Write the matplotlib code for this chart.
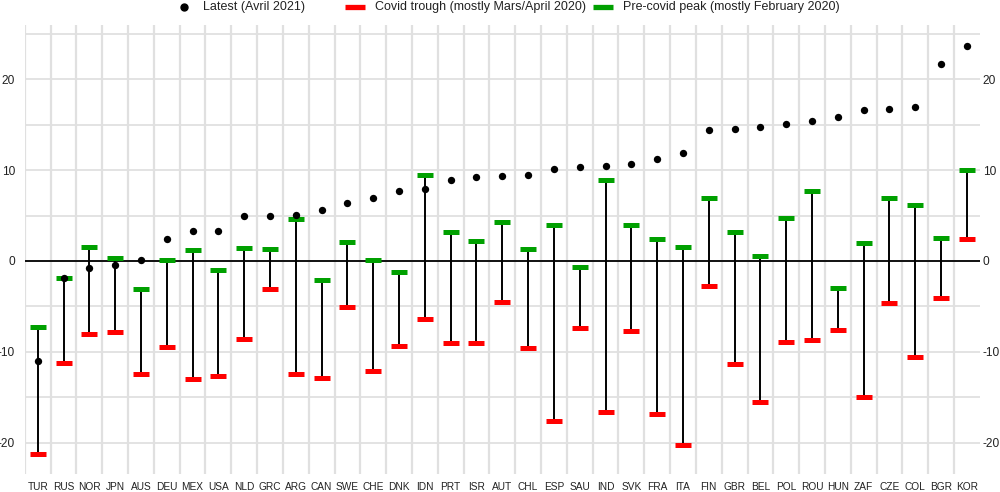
import numpy as np
import matplotlib
matplotlib.use('Agg')
import matplotlib.pyplot as plt
from matplotlib.lines import Line2D

plt.rcParams['font.family'] = ['Liberation Sans', 'DejaVu Sans']

# Data
countries = ['TUR', 'RUS', 'NOR', 'JPN', 'AUS', 'DEU', 'MEX', 'USA', 'NLD', 'GRC',
             'ARG', 'CAN', 'SWE', 'CHE', 'DNK', 'IDN', 'PRT', 'ISR', 'AUT', 'CHL',
             'ESP', 'SAU', 'IND', 'SVK', 'FRA', 'ITA', 'FIN', 'GBR', 'BEL', 'POL',
             'ROU', 'HUN', 'ZAF', 'CZE', 'COL', 'BGR', 'KOR']
latest = [-11.0, -1.9, -0.8, -0.44, 0.15, 2.46, 3.3, 3.3, 4.9, 4.93,
          5.07, 5.66, 6.4, 6.88, 7.65, 7.87, 8.9, 9.26, 9.38, 9.45,
          10.15, 10.33, 10.5, 10.66, 11.25, 11.84, 14.38, 14.5, 14.7, 15.07,
          15.44, 15.88, 16.65, 16.73, 16.9, 21.7, 23.7]
trough = [-21.3, -11.2, -8.1, -7.83, -12.4, -9.49, -13.05, -12.7, -8.64, -3.13,
          -12.4, -12.9, -5.1, -12.17, -9.41, -6.43, -9.08, -9.0, -4.52, -9.6,
          -17.6, -7.43, -16.6, -7.76, -16.8, -20.3, -2.79, -11.4, -15.5, -8.97,
          -8.75, -7.61, -14.96, -4.63, -10.55, -4.08, 2.39]
peak = [-7.28, -1.84, 1.54, 0.37, -3.09, 0.07, 1.25, -1.0, 1.4, 1.32,
        4.63, -2.06, 2.06, 0.15, -1.21, 9.45, 3.16, 2.17, 4.26, 1.32,
        3.93, -0.7, 8.93, 4.0, 2.43, 1.54, 6.95, 3.24, 0.51, 4.74,
        7.72, -3.01, 2.02, 6.95, 6.14, 2.5, 9.96]
yticks = [-20, -10, 0, 10, 20]
legend_labels = ['Latest (Avril 2021)', 'Covid trough (mostly Mars/April 2020)',
                 'Pre-covid peak (mostly February 2020)']

GRID = '#e0e0e0'
RED = '#ff0000'
GREEN = '#00a000'
TXT = '#222222'

W, H = 1000, 492
fig = plt.figure(figsize=(W / 100, H / 100), dpi=100)
ax = fig.add_axes([0.0248, 0.0366, 0.955, 0.913])

x = np.arange(len(countries))
n = len(countries)

# grid: horizontal major + minor, vertical between categories
for yv in [-20, -15, -10, -5, 0, 5, 10, 15, 20, 25]:
    ax.axhline(yv, color=GRID, lw=1.3, zorder=0)
ax.vlines(np.arange(-0.5, n - 1, 1), -30, 30, color=GRID, lw=1.6, zorder=0)
ax.axhline(0, color='black', lw=1.3, zorder=1)

# range between trough and peak
ax.vlines(x, trough, peak, color='black', lw=1.4, zorder=2)
ax.hlines(trough, x - 0.31, x + 0.31, color=RED, lw=3.6, zorder=3)
ax.hlines(peak, x - 0.31, x + 0.31, color=GREEN, lw=3.6, zorder=3)
ax.scatter(x, latest, s=28, color='black', zorder=4, linewidths=0)

ax.set_xlim(-0.5, n - 0.5)
ax.set_ylim(-23.46, 26.0)
ax.set_xticks(x)
ax.set_xticklabels(countries, fontsize=7.3, color=TXT)
ax.set_yticks(yticks)
ax.set_yticklabels([str(v) for v in yticks], fontsize=8.6, color=TXT)
ax.tick_params(axis='both', length=0)
ax.tick_params(axis='y', pad=7)
ax.tick_params(axis='x', pad=6)
for s in ax.spines.values():
    s.set_visible(False)

# duplicated labels on the right side
ax2 = ax.twinx()
ax2.set_ylim(ax.get_ylim())
ax2.set_yticks(yticks)
ax2.set_yticklabels([str(v) for v in yticks], fontsize=8.6, color=TXT)
ax2.tick_params(axis='y', length=0, pad=2)
for s in ax2.spines.values():
    s.set_visible(False)

# legend drawn by hand along the top edge
ly = 1 - 6.5 / H
fig.add_artist(Line2D([184 / W], [ly], marker='o', color='black', markersize=5,
                      transform=fig.transFigure))
fig.add_artist(Line2D([345 / W, 365 / W], [ly, ly], color=RED, lw=3.8,
                      transform=fig.transFigure, solid_capstyle='butt'))
fig.add_artist(Line2D([593 / W, 613 / W], [ly, ly], color=GREEN, lw=3.8,
                      transform=fig.transFigure, solid_capstyle='butt'))
for xpos, lab in zip([203, 375, 623], legend_labels):
    fig.text(xpos / W, ly - 3.5 / H, lab, fontsize=9, color=TXT,
             va='baseline', ha='left')

plt.savefig('out.png', dpi=100)
